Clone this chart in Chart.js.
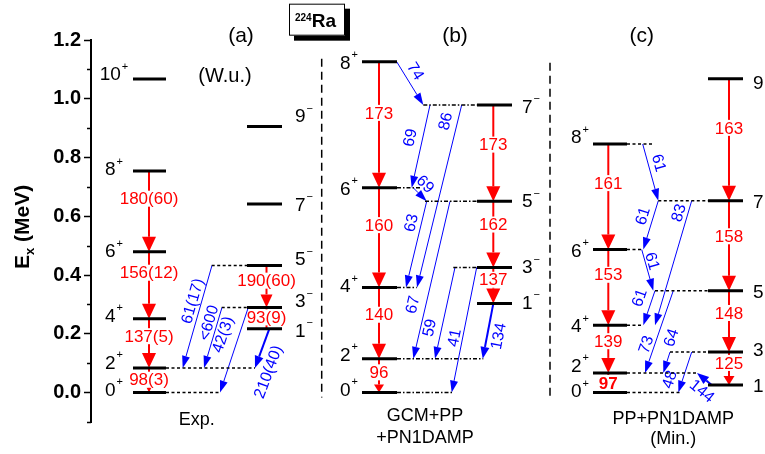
<!DOCTYPE html>
<html>
<head>
<meta charset="utf-8">
<script src="https://cdn.jsdelivr.net/npm/chart.js@4.4.0/dist/chart.umd.min.js"></script>
<style>
  body { margin: 0; background: #fff; }
  #wrap { width: 765px; height: 454px; }
</style>
</head>
<body>
<div id="wrap"><canvas id="levels" width="765" height="454"></canvas></div>
<script>
const FONT = '"Liberation Sans", Arial, Helvetica, sans-serif';
const RED = '#ff0000';
const BLUE = '#0000ff';

// ---------- data: level energies (MeV), spins, reduced probabilities (W.u.) ----------
// (a) experiment
const expGsJ = [0, 2, 4, 6, 8, 10];
const expGsE = [0, 0.084, 0.251, 0.479, 0.754, 1.067];
const expNegJ = [1, 3, 5, 7, 9];
const expNegE = [0.217, 0.290, 0.433, 0.642, 0.906];
const expE2Gs = ['98(3)', '137(5)', '156(12)', '180(60)'];   // 2->0, 4->2, 6->4, 8->6
const expE2Neg = ['93(9)', '190(60)'];                         // 3->1, 5->3
const expE3From = ['5-', '3-', '3-', '1-'];
const expE3To = ['2+', '2+', '0+', '2+'];
const expE3 = ['61(17)', '<600', '42(3)', '210(40)'];

// (b) GCM+PP+PN1DAMP
const gcmGsJ = [0, 2, 4, 6, 8];
const gcmGsE = [0, 0.115, 0.358, 0.697, 1.126];
const gcmNegJ = [1, 3, 5, 7];
const gcmNegE = [0.303, 0.426, 0.651, 0.979];
const gcmE2Gs = ['96', '140', '160', '173'];
const gcmE2Neg = ['137', '162', '173'];
const gcmE3From = ['8+', '7-', '6+', '7-', '5-', '5-', '3-', '3-', '1-'];
const gcmE3To = ['7-', '6+', '5-', '4+', '4+', '2+', '2+', '0+', '2+'];
const gcmE3 = ['74', '69', '69', '86', '63', '67', '59', '41', '134'];

// (c) PP+PN1DAMP (Min.)
const minGsJ = [0, 2, 4, 6, 8];
const minGsE = [0, 0.067, 0.229, 0.487, 0.846];
const minNegJ = [1, 3, 5, 7, 9];
const minNegE = [0.026, 0.138, 0.347, 0.653, 1.068];
const minE2Gs = ['97', '139', '153', '161'];
const minE2Neg = ['125', '148', '158', '163'];
const minE3From = ['8+', '7-', '7-', '6+', '5-', '5-', '3-', '3-', '1-'];
const minE3To = ['7-', '6+', '4+', '5-', '4+', '2+', '2+', '0+', '2+'];
const minE3 = ['61', '61', '83', '61', '61', '73', '64', '48', '144'];

// ---------- layout (x in plot units, label heights in MeV) ----------
const layA = {
  gs: [42, 75], neg: [156, 191], gsArrowX: 58, negArrowX: 175.5,
  gsLabX: 23, negLabX: 204,
  gsLabDy: [-4, -6, -4, -1.5, -3, -6], negLabDy: [1, -7, -7, 0, -11],
  dash: [['5-', 120.7, 156], ['3-', 130.7, 156], ['2+', 75, 164], ['0+', 75, 129]],
  dashPattern: [3, 2.5],
  e2GsLab: [0.044, 0.192, 0.408, 0.660], e2GsHead: [[5, 5], [15, 14], [15, 14], [15, 14]],
  e2NegLab: [0.256, 0.381], e2NegHead: [[0, 0], [13, 12]],
  e3: [[121, 91.7, 102, 0.311, 1], [131, 113, 118.3, 0.237, 1], [157.3, 129, 132.3, 0.197, 1],
       [178.3, 164, 177.7, 0.070, 2]],
  boldFirst: false
};
const layB = {
  gs: [271, 306], neg: [386, 421], gsArrowX: 288, negArrowX: 402.3,
  gsLabX: 258, negLabX: 431,
  gsLabDy: [-4, -5, -2, 0, 0], negLabDy: [-2, -1, -1, 1],
  dash: [['7-', 332.3, 386], ['6+', 306, 329], ['5-', 334, 386], ['4+', 306, 325.7],
         ['3-', 362.3, 386], ['2+', 306, 392.3], ['0+', 306, 362.3]],
  dashPattern: [4, 2, 1.5, 2],
  e2GsLab: [0.069, 0.265, 0.570, 0.952], e2GsHead: [[8, 10], [15, 14], [15, 14], [15, 14]],
  e2NegLab: [0.384, 0.572, 0.844], e2NegHead: [[15, 14], [15, 14], [15, 14]],
  e3: [[305.7, 332.3, 324, 1.093, 1], [339, 320.7, 319.7, 0.867, 1], [322.3, 335.7, 334, 0.708, 1],
       [370.7, 326, 355, 0.923, 1], [335.7, 315, 320.7, 0.577, 1], [359, 322.3, 322.3, 0.299, 1],
       [364, 344, 339, 0.220, 1], [385.7, 360.7, 364, 0.186, 1], [402.3, 391.7, 408, 0.192, 2]],
  boldFirst: false
};
const layC = {
  gs: [502, 536], neg: [617, 652], gsArrowX: 517.3, negArrowX: 638,
  gsLabX: 489, negLabX: 662,
  gsLabDy: [-2.5, -8, 0, 0, -7.6], negLabDy: [0, -3, 0, 0, 3],
  dash: [['8+', 536, 562.3], ['7-', 567.3, 617], ['6+', 536, 552.3], ['5-', 564, 617],
         ['4+', 536, 552.3], ['3-', 579, 617], ['2+', 536, 605.7], ['0+', 536, 590.7]],
  dashPattern: [3, 2.5],
  e2GsLab: [0.033, 0.175, 0.401, 0.713], e2GsHead: [[0, 0], [15, 14], [15, 14], [15, 14]],
  e2NegLab: [0.101, 0.271, 0.532, 0.901], e2NegHead: [[9, 11], [15, 14], [15, 14], [15, 14]],
  e3: [[551.7, 567.3, 567.3, 0.781, 1], [567.3, 552.3, 552.3, 0.600, 1], [600.7, 564, 588.3, 0.611, 1],
       [550.7, 562.3, 560.7, 0.447, 1], [564, 552.3, 549, 0.322, 1], [582.3, 554, 555.7, 0.163, 1],
       [579, 572.3, 580.7, 0.186, 1], [600.7, 587.3, 579, 0.044, 1], [620.7, 606, 610.7, 0.004, 2]],
  boldFirst: true
};

const panels = [
  { gsJ: expGsJ, gsE: expGsE, negJ: expNegJ, negE: expNegE, e2Gs: expE2Gs, e2Neg: expE2Neg,
    e3From: expE3From, e3To: expE3To, e3: expE3, lay: layA },
  { gsJ: gcmGsJ, gsE: gcmGsE, negJ: gcmNegJ, negE: gcmNegE, e2Gs: gcmE2Gs, e2Neg: gcmE2Neg,
    e3From: gcmE3From, e3To: gcmE3To, e3: gcmE3, lay: layB },
  { gsJ: minGsJ, gsE: minGsE, negJ: minNegJ, negE: minNegE, e2Gs: minE2Gs, e2Neg: minE2Neg,
    e3From: minE3From, e3To: minE3To, e3: minE3, lay: layC }
];

const separators = [[230.7, 1.136, -0.017], [459, 1.123, -0.024]];

const captions = [
  ['(a)', 150, 1.212, 21], ['(W.u.)', 134, 1.076, 20], ['Exp.', 105.7, -0.095, 18],
  ['(b)', 364, 1.212, 21], ['GCM+PP', 334, -0.081, 18], ['+PN1DAMP', 334, -0.154, 18],
  ['(c)', 550.7, 1.212, 21], ['PP+PN1DAMP', 582.3, -0.090, 18], ['(Min.)', 582.3, -0.157, 18]
];

// ---------- datasets: levels, dashed extensions, separators ----------
function levelMap(p) {
  const m = {};
  p.gsJ.forEach((j, i) => { m[j + '+'] = p.gsE[i]; });
  p.negJ.forEach((j, i) => { m[j + '-'] = p.negE[i]; });
  return m;
}

function seg(x1, x2, y, width, dash) {
  return {
    data: [{ x: x1, y: y }, { x: x2, y: y }],
    showLine: true, pointRadius: 0, borderColor: '#000',
    borderWidth: width, borderDash: dash || [], fill: false
  };
}

const datasets = [];
panels.forEach(p => {
  const lv = levelMap(p);
  p.gsE.forEach(e => datasets.push(seg(p.lay.gs[0], p.lay.gs[1], e, 3)));
  p.negE.forEach(e => datasets.push(seg(p.lay.neg[0], p.lay.neg[1], e, 3)));
  p.lay.dash.forEach(d => datasets.push(seg(d[1], d[2], lv[d[0]], 1.5, p.lay.dashPattern)));
});
separators.forEach(s => {
  datasets.push({
    data: [{ x: s[0], y: s[1] }, { x: s[0], y: s[2] }],
    showLine: true, pointRadius: 0, borderColor: '#000', borderWidth: 1.5, borderDash: [8, 5]
  });
});

// ---------- drawing helpers ----------
function arrow(ctx, x1, y1, x2, y2, color, width, len, wid) {
  const a = Math.atan2(y2 - y1, x2 - x1);
  const bx = x2 - len * Math.cos(a), by = y2 - len * Math.sin(a);
  ctx.strokeStyle = color;
  ctx.fillStyle = color;
  ctx.lineWidth = width;
  ctx.setLineDash([]);
  ctx.beginPath();
  ctx.moveTo(x1, y1);
  ctx.lineTo(len ? bx : x2, len ? by : y2);
  ctx.stroke();
  if (len) {
    const nx = -Math.sin(a) * wid / 2, ny = Math.cos(a) * wid / 2;
    ctx.beginPath();
    ctx.moveTo(x2, y2);
    ctx.lineTo(bx + nx, by + ny);
    ctx.lineTo(bx - nx, by - ny);
    ctx.closePath();
    ctx.fill();
  }
}

function spinLabel(ctx, x, y, j, parity, align) {
  const base = String(j);
  const sup = parity === '+' ? '+' : '\u2212';
  ctx.font = '19px ' + FONT;
  const wb = ctx.measureText(base).width;
  ctx.font = '11px ' + FONT;
  const ws = ctx.measureText(sup).width;
  const x0 = align === 'center' ? x - (wb + 1 + ws) / 2 : x;
  ctx.fillStyle = '#000';
  ctx.textAlign = 'left';
  ctx.textBaseline = 'alphabetic';
  ctx.font = '19px ' + FONT;
  ctx.fillText(base, x0, y + 7);
  ctx.font = '11px ' + FONT;
  ctx.fillText(sup, x0 + wb + 1, y - 3.5);
}

const schemePlugin = {
  id: 'scheme',
  beforeDatasetsDraw(chart) {
    const ctx = chart.ctx;
    const px = v => chart.scales.x.getPixelForValue(v);
    const py = v => chart.scales.y.getPixelForValue(v);
    ctx.save();
    panels.forEach(p => {
      const lay = p.lay;
      const lv = levelMap(p);
      // E2 cascades (red)
      const bands = [[p.gsE, p.e2Gs, lay.gsArrowX, lay.e2GsLab, lay.e2GsHead],
                     [p.negE, p.e2Neg, lay.negArrowX, lay.e2NegLab, lay.e2NegHead]];
      bands.forEach((b, bi) => {
        const [E, labs, ax, labE, heads] = b;
        labs.forEach((t, i) => {
          const x = px(ax);
          arrow(ctx, x, py(E[i + 1]), x, py(E[i]), RED, 2, heads[i][0], heads[i][1]);
          const bold = lay.boldFirst && bi === 0 && i === 0;
          ctx.font = (bold ? 'bold ' : '') + '17px ' + FONT;
          const w = ctx.measureText(t).width;
          const ly = py(labE[i]);
          ctx.fillStyle = '#fff';
          ctx.fillRect(x - w / 2 - 1, ly - 8, w + 2, 16);
          ctx.fillStyle = RED;
          ctx.textAlign = 'center';
          ctx.textBaseline = 'middle';
          ctx.fillText(t, x, ly + 1);
        });
      });
      // E3 / E1 branches (blue)
      p.e3.forEach((t, i) => {
        const [xa, xb, lx, lE, w] = lay.e3[i];
        const x1 = px(xa), y1 = py(lv[p.e3From[i]]);
        const x2 = px(xb), y2 = py(lv[p.e3To[i]]);
        arrow(ctx, x1, y1, x2, y2, BLUE, w, 12, w > 1 ? 9 : 8);
        const ang = Math.atan((y2 - y1) / (x2 - x1));
        ctx.save();
        ctx.translate(px(lx), py(lE));
        ctx.rotate(ang);
        ctx.font = '16px ' + FONT;
        ctx.fillStyle = BLUE;
        ctx.textAlign = 'center';
        ctx.textBaseline = 'middle';
        ctx.fillText(t, 0, 0);
        ctx.restore();
      });
    });
    ctx.restore();
  },
  afterDraw(chart) {
    const ctx = chart.ctx;
    const xs = chart.scales.x, ys = chart.scales.y;
    const px = v => xs.getPixelForValue(v);
    const py = v => ys.getPixelForValue(v);
    ctx.save();
    // spin-parity labels
    panels.forEach(p => {
      const lay = p.lay;
      p.gsJ.forEach((j, i) => spinLabel(ctx, px(lay.gsLabX), py(p.gsE[i]) + lay.gsLabDy[i], j, '+', 'center'));
      p.negJ.forEach((j, i) => spinLabel(ctx, px(lay.negLabX), py(p.negE[i]) + lay.negLabDy[i], j, '-', 'left'));
    });
    // captions
    ctx.fillStyle = '#000';
    ctx.textAlign = 'center';
    ctx.textBaseline = 'middle';
    captions.forEach(c => {
      ctx.font = c[3] + 'px ' + FONT;
      ctx.fillText(c[0], px(c[1]), py(c[2]));
    });
    // minor ticks
    ctx.strokeStyle = '#000';
    ctx.lineWidth = 1.5;
    ys.ticks.forEach(t => {
      if (Math.round(t.value * 10) % 2 !== 0) {
        const y = Math.round(ys.getPixelForValue(t.value)) + 0.5;
        ctx.beginPath();
        ctx.moveTo(chart.chartArea.left - 4, y);
        ctx.lineTo(chart.chartArea.left, y);
        ctx.stroke();
      }
    });
    // axis title  E_x (MeV)
    ctx.save();
    ctx.translate(28.5, 269);
    ctx.rotate(-Math.PI / 2);
    ctx.textAlign = 'left';
    ctx.textBaseline = 'alphabetic';
    ctx.font = 'bold 21px ' + FONT;
    ctx.fillText('E', 0, 0);
    let w = ctx.measureText('E').width;
    ctx.font = 'bold 13px ' + FONT;
    ctx.fillText('x', w, 5);
    w += ctx.measureText('x').width;
    ctx.font = 'bold 21px ' + FONT;
    ctx.fillText(' (MeV)', w, 0);
    ctx.restore();
    // nucleus tag
    const bx1 = px(198), bx2 = px(254), by1 = py(1.3236), by2 = py(1.2147);
    ctx.fillStyle = '#000';
    ctx.fillRect(bx1 + 5, by1 + 5, bx2 - bx1, by2 - by1);
    ctx.fillStyle = '#fff';
    ctx.fillRect(bx1, by1, bx2 - bx1, by2 - by1);
    ctx.lineWidth = 1;
    ctx.strokeRect(bx1 + 0.5, by1 + 0.5, bx2 - bx1 - 1, by2 - by1 - 1);
    ctx.fillStyle = '#000';
    ctx.textAlign = 'left';
    ctx.textBaseline = 'alphabetic';
    ctx.font = 'bold 10px ' + FONT;
    ctx.fillText('224', bx1 + 6, by1 + 17);
    const w224 = ctx.measureText('224').width;
    ctx.font = 'bold 19px ' + FONT;
    ctx.fillText('Ra', bx1 + 6 + w224, by1 + 23.5);
    ctx.restore();
  }
};

Chart.defaults.font.family = FONT;

const levelChart = new Chart(document.getElementById('levels'), {
  type: 'scatter',
  data: { datasets: datasets },
  options: {
    responsive: false,
    animation: false,
    layout: { padding: { top: 40, bottom: 32, left: 0, right: 0 } },
    plugins: { legend: { display: false }, tooltip: { enabled: false } },
    scales: {
      x: { type: 'linear', display: false, min: 0, max: 674 },
      y: {
        type: 'linear', min: -0.1, max: 1.2,
        afterFit(scale) { scale.width = 91; },
        border: { display: true, color: '#000', width: 2 },
        grid: {
          drawOnChartArea: false, drawTicks: true, tickLength: 7, tickWidth: 1.5,
          tickColor: c => (Math.round(c.tick.value * 10) % 2 === 0 ? '#000' : 'rgba(0,0,0,0)')
        },
        ticks: {
          stepSize: 0.1, autoSkip: false, color: '#000', padding: 3,
          font: { size: 20, weight: 'bold' },
          callback: v => (Math.round(v * 10) % 2 === 0 ? v.toFixed(1) : '')
        }
      }
    }
  },
  plugins: [schemePlugin]
});
</script>
</body>
</html>
